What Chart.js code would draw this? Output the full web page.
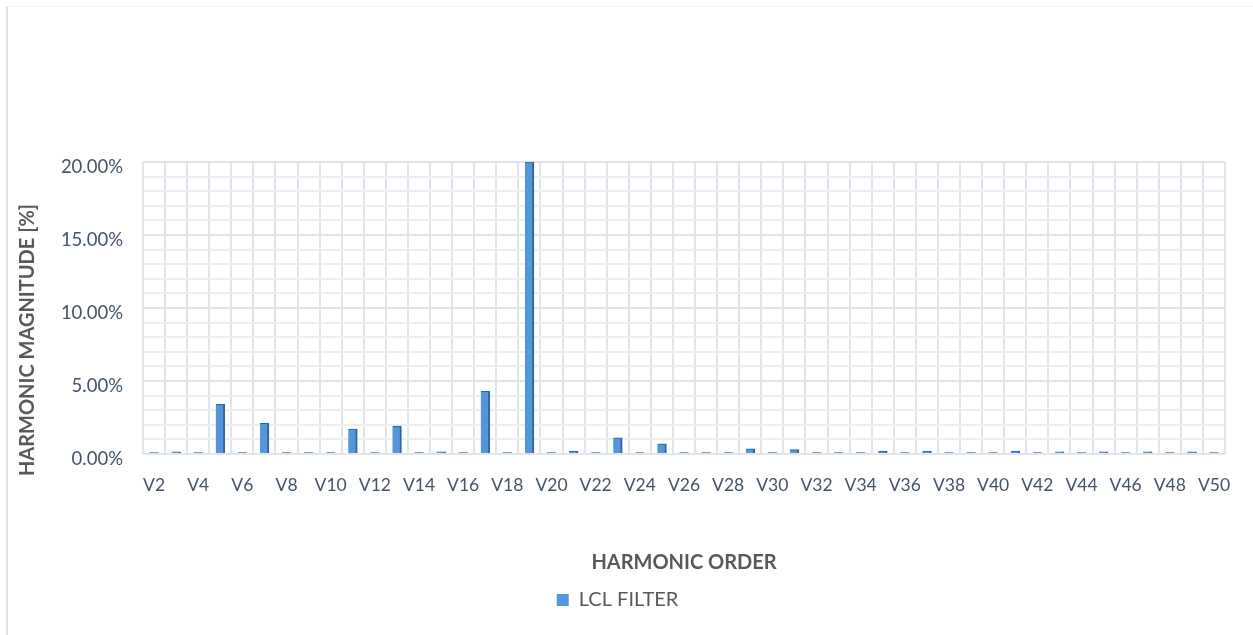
<!DOCTYPE html>
<html>
<head>
<meta charset="utf-8">
<script src="https://cdn.jsdelivr.net/npm/chart.js@4.4.1/dist/chart.umd.min.js"></script>
<style>
  html, body { margin: 0; padding: 0; background: #fff; }
  #wrap { position: relative; width: 1253px; height: 635px; }
  #frame { position: absolute; left: 6px; top: 6px; right: 0; bottom: 0;
           border-left: 2px solid #dde1e6; border-top: 1px solid #f2f2f2; pointer-events: none; }
</style>
</head>
<body>
<div id="wrap">
  <canvas id="chart" width="1253" height="635"></canvas>
  <div id="frame"></div>
</div>
<script>
// ─── DATA ─────────────────────────────────────────────────────
const harmonics = [];
for (let n = 2; n <= 50; n++) harmonics.push('V' + n);

// LCL filter harmonic magnitude, % of fundamental (V2 .. V50)
const lclValues = [
    0.10, 0.15, 0.10, 3.40, 0.10, 2.10, 0.10, 0.10, 0.10, 1.70,   // V2  - V11
    0.10, 1.90, 0.10, 0.15, 0.10, 4.30, 0.10, 20.00, 0.10, 0.20,  // V12 - V21
    0.10, 1.10, 0.10, 0.70, 0.10, 0.10, 0.10, 0.35, 0.10, 0.30,   // V22 - V31
    0.10, 0.10, 0.10, 0.20, 0.10, 0.20, 0.10, 0.10, 0.10, 0.20,   // V32 - V41
    0.10, 0.15, 0.10, 0.15, 0.10, 0.15, 0.10, 0.15, 0.10          // V42 - V50
];

const yMax = 20;
const yStep = 1;
const yLabelEvery = 5;

// ─── CHART ───────────────────────────────────────────────────
const textColor = '#44546a';
const titleColor = '#595959';
const font = 'Lato, "Open Sans", sans-serif';

// y title drawn by hand: in the original it sits a bit below the plot centre
const yTitlePlugin = {
    id: 'yTitle',
    afterDraw(chart) {
        const ctx = chart.ctx;
        ctx.save();
        ctx.translate(28, 340);
        ctx.rotate(-Math.PI / 2);
        ctx.font = '700 20px ' + font;
        ctx.fillStyle = titleColor;
        ctx.textAlign = 'center';
        ctx.textBaseline = 'middle';
        ctx.fillText('HARMONIC MAGNITUDE [%]', 0, 0);
        ctx.restore();
    }
};

new Chart(document.getElementById('chart'), {
    type: 'bar',
    data: {
        labels: harmonics,
        datasets: [{
            label: 'LCL FILTER',
            data: lclValues,
            backgroundColor: '#5596da',
            borderColor: '#2d65a6',
            borderWidth: { right: 2, top: 1, left: 0, bottom: 0 },
            borderSkipped: false,
            barThickness: 9,
            categoryPercentage: 1,
        }]
    },
    plugins: [yTitlePlugin],
    options: {
        responsive: false,
        animation: false,
        layout: { padding: { left: 10, right: 28, top: 162, bottom: 15 } },
        plugins: {
            tooltip: { enabled: false },
            legend: {
                position: 'bottom',
                labels: {
                    color: titleColor,
                    font: { family: font, size: 20 },
                    boxWidth: 12, boxHeight: 12,
                    padding: 10,
                    generateLabels: chart => [{
                        text: 'LCL FILTER',
                        fillStyle: '#5596da',
                        strokeStyle: '#5596da',
                        lineWidth: 0,
                        fontColor: titleColor,
                        datasetIndex: 0
                    }]
                }
            }
        },
        scales: {
            x: {
                grid: {
                    offset: true,
                    color: '#e2e5ec',
                    lineWidth: 2,
                    drawTicks: false
                },
                border: { display: true, color: '#e2e5ec', width: 2 },
                ticks: {
                    autoSkip: false,
                    maxRotation: 0,
                    color: textColor,
                    padding: 21,
                    font: { family: font, size: 17.5 },
                    callback: (v, i) => (i % 2 === 0 ? harmonics[i] : '')
                },
                title: {
                    display: true,
                    text: 'HARMONIC ORDER',
                    color: titleColor,
                    font: { family: font, size: 20, weight: 'bold' },
                    padding: { top: 0, bottom: 5 }
                },
                afterFit: s => { s.height = 126; }
            },
            y: {
                min: 0,
                max: yMax,
                grid: {
                    color: c => (c.tick && c.tick.value % yLabelEvery === 0 ? '#e0e3ea' : '#eceef3'),
                    lineWidth: 2,
                    drawTicks: false
                },
                border: { display: true, color: '#e2e5ec', width: 2 },
                ticks: {
                    stepSize: yStep,
                    autoSkip: false,
                    color: textColor,
                    padding: 20,
                    labelOffset: 5,
                    font: { family: font, size: 18.5 },
                    callback: v => (v % yLabelEvery === 0 ? v.toFixed(2) + '%' : '')
                },
                afterFit: s => { s.width = 133; }
            }
        }
    }
});
</script>
</body>
</html>
